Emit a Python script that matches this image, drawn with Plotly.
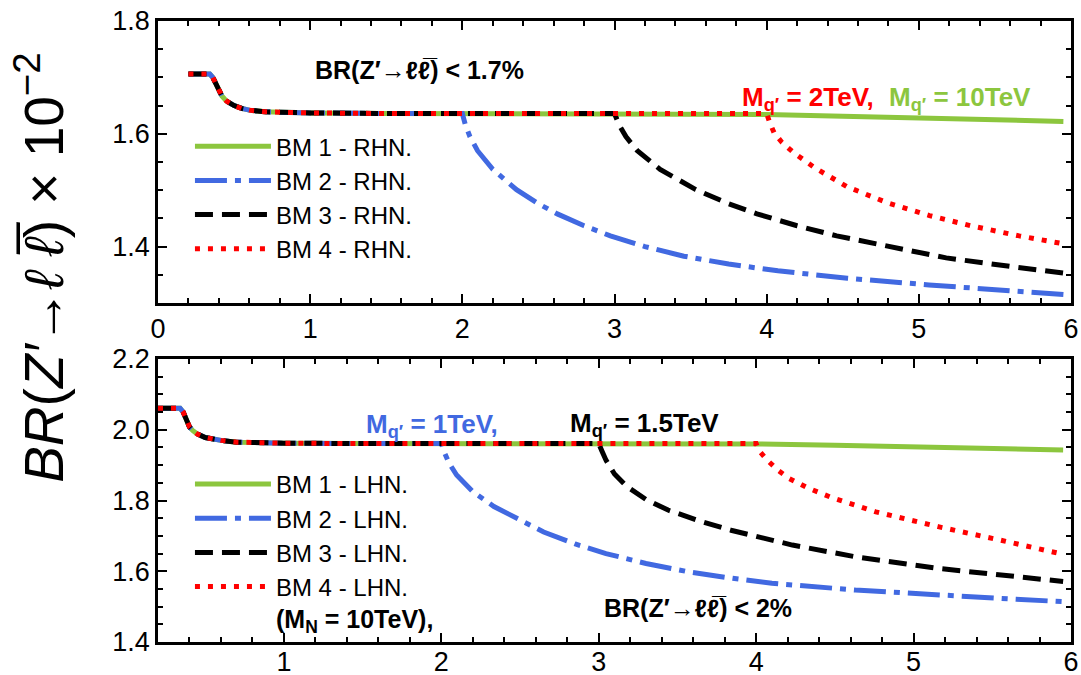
import plotly.graph_objects as go

# Shared low-mass part of every curve (x in TeV, BR in units of 1e-2)
head_x = [0.2, 0.34, 0.36, 0.38, 0.40, 0.42, 0.45, 0.50, 0.55, 0.60, 0.70, 0.80, 1.0, 1.5]
rhn_head = [1.706, 1.706, 1.700, 1.689, 1.677, 1.667, 1.658, 1.650, 1.645, 1.642, 1.639, 1.638, 1.637, 1.636]
lhn_head = [2.061, 2.061, 2.050, 2.030, 2.008, 1.998, 1.988, 1.978, 1.973, 1.970, 1.965, 1.963, 1.962, 1.961]

# RHN benchmarks (upper panel)
rhn_bm1_x = [2.0, 3.0, 3.5, 4.0, 4.5, 5.0, 5.5, 5.95]
rhn_bm1_y = [1.636, 1.636, 1.6355, 1.634, 1.631, 1.628, 1.625, 1.622]
rhn_bm2_x = [2.0, 2.02, 2.05, 2.1, 2.2, 2.356, 2.5, 2.624, 2.8, 2.973, 3.2, 3.456, 3.75, 4.074, 4.53, 5.067, 5.5, 5.95]
rhn_bm2_y = [1.636, 1.616, 1.595, 1.570, 1.537, 1.501, 1.476, 1.458, 1.437, 1.419, 1.400, 1.383, 1.369, 1.357, 1.344, 1.332, 1.323, 1.315]
rhn_bm3_x = [2.0, 3.0, 3.03, 3.075, 3.15, 3.3, 3.534, 3.75, 3.936, 4.2, 4.46, 4.8, 5.18, 5.625, 5.95]
rhn_bm3_y = [1.636, 1.636, 1.616, 1.595, 1.570, 1.537, 1.501, 1.476, 1.458, 1.437, 1.419, 1.400, 1.380, 1.364, 1.353]
rhn_bm4_x = [2.0, 3.0, 4.0, 4.02, 4.05, 4.1, 4.18, 4.32, 4.53, 4.8, 5.07, 5.34, 5.66, 5.95]
rhn_bm4_y = [1.636, 1.636, 1.636, 1.620, 1.601, 1.585, 1.566, 1.539, 1.506, 1.477, 1.455, 1.437, 1.419, 1.405]

# LHN benchmarks (lower panel)
lhn_bm1_x = [2.0, 3.0, 3.5, 4.0, 4.5, 5.0, 5.5, 5.95]
lhn_bm1_y = [1.961, 1.961, 1.961, 1.960, 1.956, 1.951, 1.947, 1.943]
lhn_bm2_x = [2.0, 2.02, 2.05, 2.097, 2.2, 2.334, 2.5, 2.65, 2.85, 3.046, 3.3, 3.574, 3.85, 4.10, 4.63, 5.156, 5.6, 5.95]
lhn_bm2_y = [1.961, 1.935, 1.905, 1.872, 1.825, 1.783, 1.747, 1.711, 1.677, 1.650, 1.622, 1.598, 1.580, 1.566, 1.547, 1.532, 1.522, 1.514]
lhn_bm3_x = [2.0, 3.0, 3.02, 3.046, 3.1, 3.18, 3.3, 3.44, 3.64, 3.84, 4.23, 4.63, 5.156, 5.6, 5.95]
lhn_bm3_y = [1.961, 1.961, 1.940, 1.914, 1.875, 1.839, 1.803, 1.773, 1.742, 1.716, 1.674, 1.641, 1.608, 1.586, 1.571]
lhn_bm4_x = [2.0, 3.0, 4.0, 4.02, 4.07, 4.14, 4.21, 4.33, 4.47, 4.76, 5.156, 5.55, 5.95]
lhn_bm4_y = [1.961, 1.961, 1.961, 1.940, 1.914, 1.885, 1.862, 1.835, 1.810, 1.768, 1.726, 1.688, 1.648]

FONT = "Liberation Sans, Arial, Helvetica, sans-serif"
GREEN = "#8cc63e"
BLUE = "#4169e1"
BLACK = "#000000"
RED = "#ff0000"

styles = [
    (GREEN, "solid"),
    (BLUE, "32px,8px,6px,8px"),
    (BLACK, "18px,9px"),
    (RED, "5px,8px"),
]

fig = go.Figure()

rhn = [(rhn_bm1_x, rhn_bm1_y), (rhn_bm2_x, rhn_bm2_y), (rhn_bm3_x, rhn_bm3_y), (rhn_bm4_x, rhn_bm4_y)]
lhn = [(lhn_bm1_x, lhn_bm1_y), (lhn_bm2_x, lhn_bm2_y), (lhn_bm3_x, lhn_bm3_y), (lhn_bm4_x, lhn_bm4_y)]

for i, ((xs, ys), (col, dash)) in enumerate(zip(rhn, styles)):
    fig.add_trace(go.Scatter(
        x=head_x + xs, y=rhn_head + ys, mode="lines",
        line=dict(color=col, width=5, dash=dash),
        name=f"BM {i + 1} - RHN.", xaxis="x", yaxis="y", legend="legend",
    ))

for i, ((xs, ys), (col, dash)) in enumerate(zip(lhn, styles)):
    fig.add_trace(go.Scatter(
        x=head_x + xs, y=lhn_head + ys, mode="lines",
        line=dict(color=col, width=5, dash=dash),
        name=f"BM {i + 1} - LHN.", xaxis="x2", yaxis="y2", legend="legend2",
    ))

axis_common = dict(
    showline=True, linecolor="black", linewidth=2.5, mirror="allticks",
    ticks="inside", ticklen=9, tickwidth=1.5, tickcolor="black",
    showgrid=False, zeroline=False, automargin=False,
    tickfont=dict(family=FONT, size=27, color="black"),
)

legend_common = dict(
    font=dict(family=FONT, size=24, color="black"),
    bgcolor="rgba(0,0,0,0)", itemwidth=76, tracegroupgap=0,
    xanchor="left", yanchor="top",
)

fig.update_layout(
    width=1081, height=675,
    margin=dict(l=158, r=10, t=21, b=33),
    paper_bgcolor="white", plot_bgcolor="white",
    xaxis=dict(axis_common, range=[0, 6], dtick=1, tick0=0,
               minor=dict(dtick=0.2, tick0=0, ticks="inside", ticklen=5, tickcolor="black"),
               anchor="y"),
    yaxis=dict(axis_common, range=[1.3, 1.8], dtick=0.2, tick0=0, tickformat=".1f",
               minor=dict(dtick=0.05, tick0=0, ticks="inside", ticklen=5, tickcolor="black"),
               domain=[0.5459, 1.0], anchor="x"),
    xaxis2=dict(axis_common, range=[0.2, 6], dtick=1, tick0=0, ticklabelstandoff=-6,
                minor=dict(dtick=0.2, tick0=0, ticks="inside", ticklen=5, tickcolor="black"),
                anchor="y2"),
    yaxis2=dict(axis_common, range=[1.4, 2.2], dtick=0.2, tick0=0, tickformat=".1f",
                minor=dict(dtick=0.05, tick0=0, ticks="inside", ticklen=5, tickcolor="black"),
                domain=[0.0, 0.4557], anchor="x2"),
    legend=dict(legend_common, x=0.035, y=0.834),
    legend2=dict(legend_common, x=0.035, y=0.29),
    showlegend=True,
)

BR_LL = "BR(Z′→ℓℓ\u0305)"

annotations = [
    dict(text=f"<b>{BR_LL} < 1.7%</b>", x=1.72, y=1.713, xref="x", yref="y", color=BLACK, size=25),
    dict(text="<b>M<sub>q′</sub> = 2TeV,</b>", x=4.27, y=1.662, xref="x", yref="y", color=RED, size=26),
    dict(text="<b>M<sub>q′</sub> = 10TeV</b>", x=5.27, y=1.662, xref="x", yref="y", color=GREEN, size=26),
    dict(text="<b>M<sub>q′</sub> = 1TeV,</b>", x=1.94, y=2.012, xref="x2", yref="y2", color=BLUE, size=26),
    dict(text="<b>M<sub>q′</sub> = 1.5TeV</b>", x=3.29, y=2.016, xref="x2", yref="y2", color=BLACK, size=26),
    dict(text="<b>(M<sub>N</sub> = 10TeV),</b>", x=1.45, y=1.458, xref="x2", yref="y2", color=BLACK, size=25),
    dict(text=f"<b>{BR_LL} < 2%</b>", x=3.63, y=1.496, xref="x2", yref="y2", color=BLACK, size=25),
]
for a in annotations:
    fig.add_annotation(
        text=a["text"], x=a["x"], y=a["y"], xref=a["xref"], yref=a["yref"],
        showarrow=False, xanchor="center", yanchor="middle",
        font=dict(family=FONT, size=a["size"], color=a["color"]),
    )

# Shared vertical axis title
fig.add_annotation(
    text="<i>BR</i>(<i>Z′</i>→<i>ℓ</i> <i>ℓ\u0305</i>) × 10<sup>−2</sup>",
    x=-0.13, y=0.603, xref="paper", yref="paper",
    showarrow=False, textangle=-90, xanchor="center", yanchor="middle",
    font=dict(family=FONT, size=55, color="black"),
)

fig.write_html("out.html")
